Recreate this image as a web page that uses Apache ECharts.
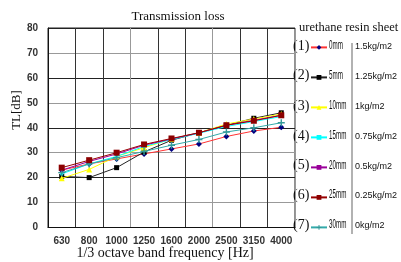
<!DOCTYPE html>
<html><head><meta charset="utf-8">
<script src="https://cdn.jsdelivr.net/npm/echarts@6/dist/echarts.min.js"></script>
<style>html,body{margin:0;padding:0;background:#fff}#c{width:401px;height:262px}</style>
</head><body><div id="c"></div>
<script>
var categories = ['630','800','1000','1250','1600','2000','2500','3150','4000'];
var yTicks = [0,10,20,30,40,50,60,70,80];
var names = ['0mm','5mm','10mm','15mm','20mm','25mm','30mm'];
var densities = ['1.5kg/m2','1.25kg/m2','1kg/m2','0.75kg/m2','0.5kg/m2','0.25kg/m2','0kg/m2'];
var s0mm  = [23.0, 25.5, 27.5, 29.5, 31.5, 33.5, 36.5, 38.7, 40.2];
var s5mm  = [20.5, 20.0, 24.0, 30.3, 35.0, 38.0, 41.0, 43.8, 46.0];
var s10mm = [19.7, 23.3, 28.5, 32.0, 35.5, 38.0, 41.5, 43.5, 45.5];
var s15mm = [21.5, 25.5, 28.5, 32.5, 35.3, 37.8, 40.5, 42.5, 44.5];
var s20mm = [23.0, 26.5, 29.5, 33.0, 35.5, 38.0, 41.0, 43.0, 45.0];
var s25mm = [24.0, 27.0, 30.0, 33.3, 35.7, 38.0, 41.0, 42.8, 45.0];
var s30mm = [22.0, 25.5, 28.0, 30.5, 33.0, 35.3, 38.3, 40.0, 42.0];

var plus = 'path://M4,0L6,0L6,4L10,4L10,6L6,6L6,10L4,10L4,6L0,6L0,4L4,4Z';
var specs = [
  {d:s0mm,  c:'#ff3333', m:'#000080', sym:'diamond', sz:6},
  {d:s5mm,  c:'#222222', m:'#000000', sym:'rect', sz:5},
  {d:s10mm, c:'#ffff00', m:'#ffff00', sym:'triangle', sz:6},
  {d:s15mm, c:'#00ffff', m:'#00ffff', sym:'rect', sz:3},
  {d:s20mm, c:'#990099', m:'#990099', sym:'rect', sz:3},
  {d:s30mm, c:'#33aaaa', m:'#339999', sym:plus, sz:7},
  {d:s25mm, c:'#990000', m:'#8b0000', sym:'rect', sz:6}
];
var nameIdx = [0,1,2,3,4,6,5];
var series = specs.map(function(s,i){
  return {name:names[nameIdx[i]], type:'line', data:s.d, symbol:s.sym, symbolSize:s.sz,
    lineStyle:{color:s.c, width:1}, itemStyle:{color:s.m}, color:s.c, animation:false, z:2+i};
});

function T(text, font, x, y, align, extra){
  var o = {type:'text', x:x, y:y, style:{text:text, font:font, fill:'#111', align:align||'left', verticalAlign:'middle'}};
  if (extra) for (var k in extra) o[k]=extra[k];
  return o;
}
var graphics = [
  T('Transmission loss', '13px "Liberation Serif"', 178, 17, 'center'),
  T('TL[dB]', '13px "Liberation Serif"', 17, 110, 'center', {rotation:Math.PI/2}),
  T('1/3 octave band frequency [Hz]', '14px "Liberation Serif"', 165, 253, 'center'),
  T('urethane resin sheet', '12.5px "Liberation Serif"', 299, 28, 'left'),
  {type:'line', shape:{x1:352, y1:43, x2:352, y2:234}, style:{stroke:'#999', lineWidth:1.5}}
];
var ys = [46, 75.5, 106, 136, 165.5, 195, 225];
for (var i=0;i<7;i++){
  graphics.push(T('('+(i+1)+')', '14px "Liberation Serif"', 293, ys[i], 'left'));
  graphics.push(T(names[i], '12px "Liberation Sans"', 329, ys[i], 'left', {scaleX:0.52}));
  graphics.push(T(densities[i], '9px "Liberation Sans"', 355, ys[i]+1, 'left'));
}

var chart = echarts.init(document.getElementById('c'), null, {renderer:'canvas'});
chart.setOption({
  animation:false,
  grid:{left:48, right:106, top:28, bottom:34.5, show:true, borderColor:'#222', borderWidth:1},
  xAxis:{type:'category', data:categories, boundaryGap:true,
    axisLine:{lineStyle:{color:'#111'}}, axisTick:{show:false},
    axisLabel:{interval:0, color:'#333', fontSize:10, fontWeight:'bold', fontFamily:'Liberation Sans', margin:9},
    splitLine:{show:true, interval:0, lineStyle:{color:['#999','#333','#333'], width:1}}},
  yAxis:{type:'value', min:yTicks[0], max:yTicks[yTicks.length-1], interval:10,
    axisLine:{show:true, lineStyle:{color:'#111'}}, axisTick:{show:false},
    axisLabel:{color:'#333', fontSize:10, fontWeight:'bold', fontFamily:'Liberation Sans', margin:10},
    splitLine:{lineStyle:{color:['#222','#999'], width:1}}},
  legend:{orient:'vertical', left:310, top:45, padding:0, itemWidth:16, itemHeight:6, itemGap:25.2,
    formatter:function(){return '';},
    textStyle:{fontSize:6, lineHeight:6, padding:0},
    data:names},
  series:series,
  graphic:graphics
});
</script></body></html>
